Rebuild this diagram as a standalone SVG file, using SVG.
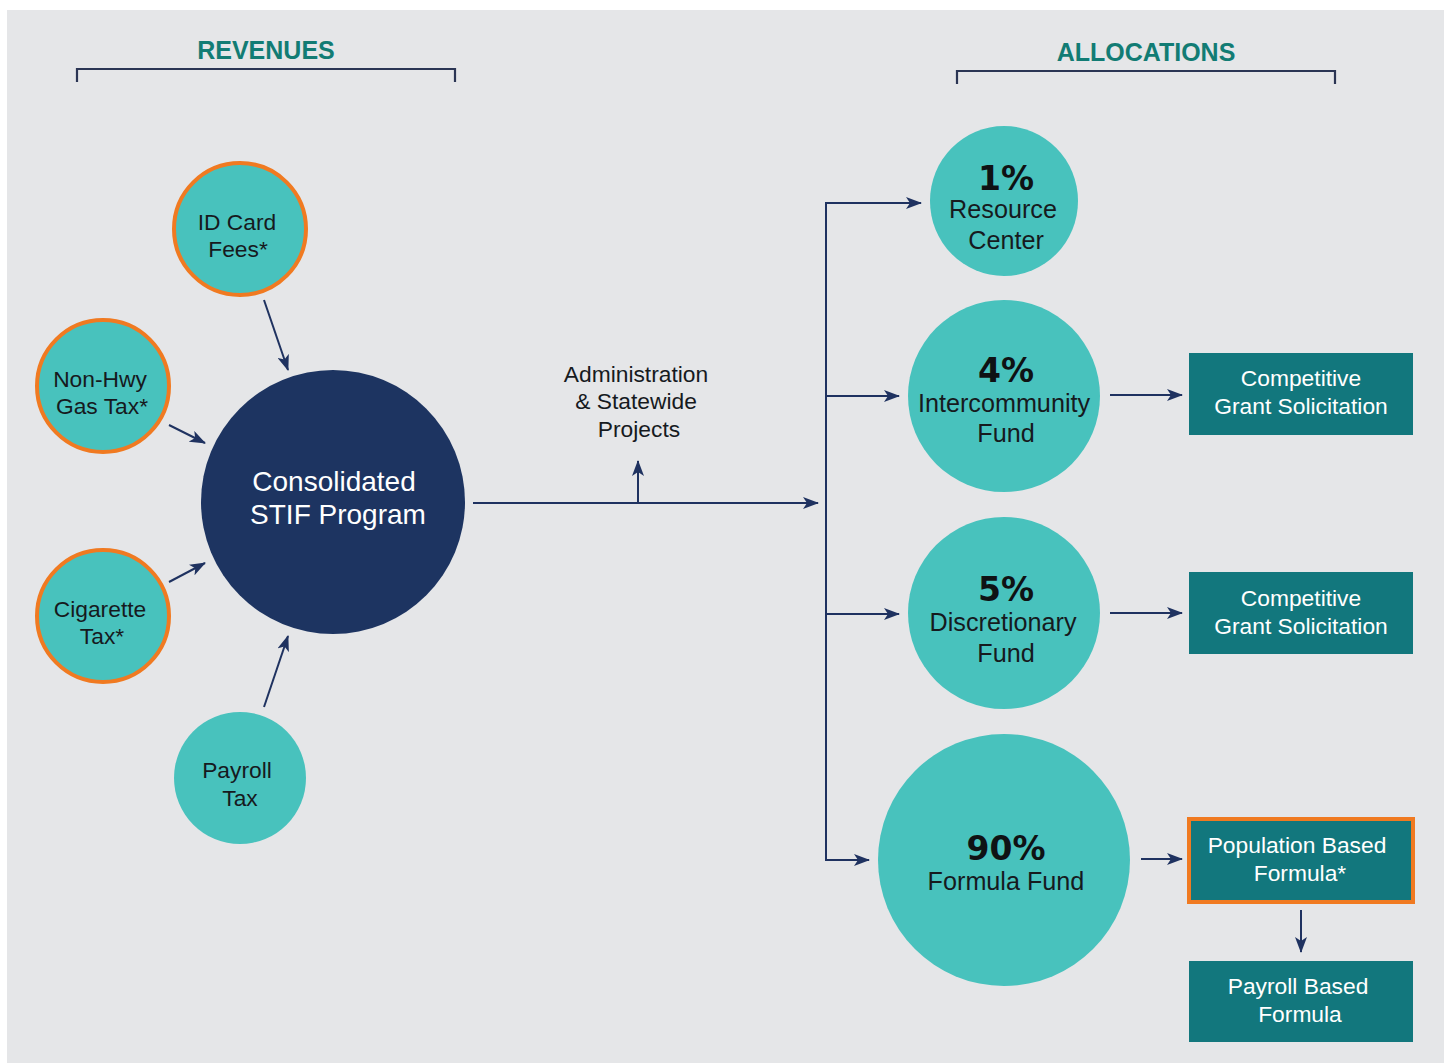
<svg xmlns="http://www.w3.org/2000/svg" width="1444" height="1063" viewBox="0 0 1444 1063">
  <style>
    text { font-family: "Liberation Sans", Arial, sans-serif; text-anchor: middle; }
    .head { font-size: 25px; font-weight: bold; fill: #127c74; }
    .bracket { fill: none; stroke: #2b3554; stroke-width: 2.2; }
    .src { fill: #48c2bd; }
    .ring { stroke: #f07a21; stroke-width: 4; }
    .hub { fill: #1d3461; }
    .alloc { fill: #48c2bd; }
    .box { fill: #12777d; }
    .dark { font-size: 22.8px; fill: #161a1e; }
    .alt { font-size: 25.2px; fill: #161a1e; }
    .pct { font-family: "DejaVu Sans", "Liberation Sans", sans-serif; font-size: 33px; font-weight: bold; fill: #0f1214; }
    .light { font-size: 22.8px; fill: #ffffff; }
    .hubtxt { font-size: 28px; fill: #ffffff; }
    .link { fill: none; stroke: #1f3260; stroke-width: 2; }
  </style>
  <defs>
    <marker id="arrow" viewBox="0 0 16 12" refX="15" refY="6" markerWidth="16" markerHeight="12" markerUnits="userSpaceOnUse" orient="auto">
      <path d="M0,0 L16,6 L0,12 L4,6 z" fill="#1f3260"/>
    </marker>
  </defs>

  <rect x="0" y="0" width="1444" height="1063" fill="#ffffff"/>
  <rect x="7" y="10" width="1437" height="1053" fill="#e5e6e8"/>

  <!-- section headings -->
  <g id="revenues-heading">
    <text class="head" x="266" y="59">REVENUES</text>
    <path class="bracket" d="M77,82 V69 H455 V82"/>
  </g>
  <g id="allocations-heading">
    <text class="head" x="1146" y="61">ALLOCATIONS</text>
    <path class="bracket" d="M957,84 V71 H1335 V84"/>
  </g>

  <!-- connectors -->
  <g id="connectors">
    <line class="link" x1="264" y1="300" x2="288" y2="370" marker-end="url(#arrow)"/>
    <line class="link" x1="169" y1="425" x2="205" y2="443" marker-end="url(#arrow)"/>
    <line class="link" x1="169" y1="582" x2="205" y2="563" marker-end="url(#arrow)"/>
    <line class="link" x1="264" y1="707" x2="288" y2="636" marker-end="url(#arrow)"/>
    <line class="link" x1="473" y1="503" x2="818" y2="503" marker-end="url(#arrow)"/>
    <line class="link" x1="638" y1="503" x2="638" y2="461" marker-end="url(#arrow)"/>
    <line class="link" x1="826" y1="202" x2="826" y2="861"/>
    <line class="link" x1="825" y1="203" x2="921" y2="203" marker-end="url(#arrow)"/>
    <line class="link" x1="825" y1="396" x2="899" y2="396" marker-end="url(#arrow)"/>
    <line class="link" x1="825" y1="614" x2="899" y2="614" marker-end="url(#arrow)"/>
    <line class="link" x1="825" y1="860" x2="869" y2="860" marker-end="url(#arrow)"/>
    <line class="link" x1="1110" y1="395" x2="1182" y2="395" marker-end="url(#arrow)"/>
    <line class="link" x1="1110" y1="613" x2="1182" y2="613" marker-end="url(#arrow)"/>
    <line class="link" x1="1141" y1="859" x2="1182" y2="859" marker-end="url(#arrow)"/>
    <line class="link" x1="1301" y1="910" x2="1301" y2="952" marker-end="url(#arrow)"/>
  </g>

  <!-- revenue sources -->
  <g id="id-card-fees">
    <circle class="src ring" cx="240" cy="229" r="66"/>
    <text class="dark" x="237" y="230">ID Card</text>
    <text class="dark" x="238" y="257">Fees*</text>
  </g>
  <g id="non-hwy-gas-tax">
    <circle class="src ring" cx="103" cy="386" r="66"/>
    <text class="dark" x="100" y="387">Non-Hwy</text>
    <text class="dark" x="102" y="414">Gas Tax*</text>
  </g>
  <g id="cigarette-tax">
    <circle class="src ring" cx="103" cy="616" r="66"/>
    <text class="dark" x="100" y="617">Cigarette</text>
    <text class="dark" x="102" y="644">Tax*</text>
  </g>
  <g id="payroll-tax">
    <circle class="src" cx="240" cy="778" r="66"/>
    <text class="dark" x="237" y="778">Payroll</text>
    <text class="dark" x="240" y="806">Tax</text>
  </g>

  <!-- consolidated program -->
  <g id="consolidated-stif">
    <ellipse class="hub" cx="333" cy="502" rx="132" ry="132"/>
    <text class="hubtxt" x="334" y="491">Consolidated</text>
    <text class="hubtxt" x="338" y="524">STIF Program</text>
  </g>

  <g id="admin-statewide">
    <text class="dark" x="636" y="382">Administration</text>
    <text class="dark" x="636" y="409">&amp; Statewide</text>
    <text class="dark" x="639" y="437">Projects</text>
  </g>

  <!-- allocations -->
  <g id="resource-center">
    <ellipse class="alloc" cx="1004" cy="201" rx="74" ry="75"/>
    <text class="pct" x="1006" y="190">1%</text>
    <text class="alt" x="1003" y="218">Resource</text>
    <text class="alt" x="1006" y="249">Center</text>
  </g>
  <g id="intercommunity-fund">
    <ellipse class="alloc" cx="1004" cy="396" rx="96" ry="96"/>
    <text class="pct" x="1006" y="382">4%</text>
    <text class="alt" x="1004" y="412">Intercommunity</text>
    <text class="alt" x="1006" y="442">Fund</text>
  </g>
  <g id="discretionary-fund">
    <ellipse class="alloc" cx="1004" cy="613" rx="96" ry="96"/>
    <text class="pct" x="1006" y="601">5%</text>
    <text class="alt" x="1003" y="631">Discretionary</text>
    <text class="alt" x="1006" y="662">Fund</text>
  </g>
  <g id="formula-fund">
    <ellipse class="alloc" cx="1004" cy="860" rx="126" ry="126"/>
    <text class="pct" x="1006" y="860">90%</text>
    <text class="alt" x="1006" y="890">Formula Fund</text>
  </g>

  <!-- distribution methods -->
  <g id="grant-solicitation-1">
    <rect class="box" x="1189" y="353" width="224" height="82"/>
    <text class="light" x="1301" y="386">Competitive</text>
    <text class="light" x="1301" y="414">Grant Solicitation</text>
  </g>
  <g id="grant-solicitation-2">
    <rect class="box" x="1189" y="572" width="224" height="82"/>
    <text class="light" x="1301" y="606">Competitive</text>
    <text class="light" x="1301" y="634">Grant Solicitation</text>
  </g>
  <g id="population-formula">
    <rect class="box" x="1189" y="819" width="224" height="83" stroke="#f07a21" stroke-width="4"/>
    <text class="light" x="1297" y="853">Population Based</text>
    <text class="light" x="1300" y="881">Formula*</text>
  </g>
  <g id="payroll-formula">
    <rect class="box" x="1189" y="961" width="224" height="81"/>
    <text class="light" x="1298" y="994">Payroll Based</text>
    <text class="light" x="1300" y="1022">Formula</text>
  </g>
</svg>
